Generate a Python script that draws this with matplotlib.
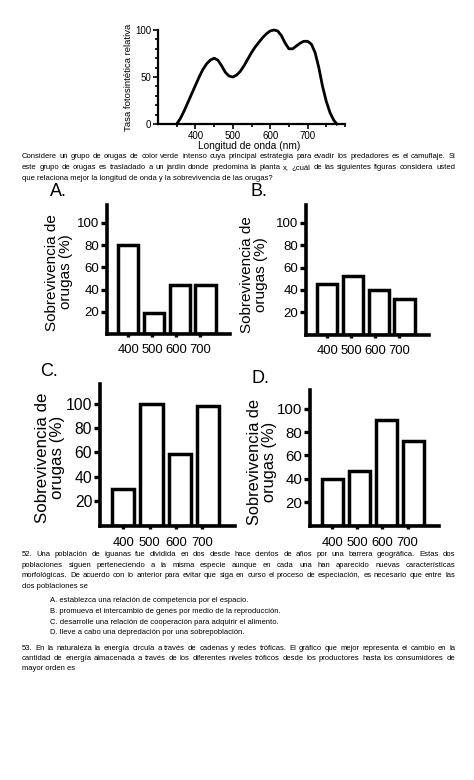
import matplotlib
matplotlib.use("Agg")
import matplotlib.pyplot as plt
import numpy as np

plt.rcParams['font.family'] = ['Liberation Sans', 'DejaVu Sans']

W, H = 474, 780

# espectro de accion (tasa fotosintetica relativa)
wavelength = [350, 360, 370, 380, 390, 400, 410, 420, 430, 440, 450, 460, 470,
              480, 490, 500, 510, 520, 530, 540, 550, 560, 570, 580, 590, 600,
              610, 620, 630, 640, 650, 660, 670, 680, 690, 700, 710, 720, 730,
              740, 750, 760, 770, 778]
rate = [0, 6, 14, 23, 32, 41, 50, 58, 64, 68, 70, 68, 62,
        55, 51, 50, 52, 56, 62, 69, 76, 82, 87, 92, 96, 99,
        100, 99, 94, 86, 80, 80, 83, 86, 88, 88, 85, 76, 60,
        40, 24, 12, 4, 0]
wl_ticks = [400, 500, 600, 700]

# sobrevivencia de orugas (%) por longitud de onda
bar_labels = ['400', '500', '600', '700']
surv_a = [80, 19, 44, 44]
surv_b = [45, 52, 40, 32]
surv_c = [30, 100, 59, 98]
surv_d = [40, 47, 90, 72]

intro = [
    ("Considere un grupo de orugas de color verde intenso cuya principal estrategia para evadir los predadores es el camuflaje. Si", True),
    ("este grupo de orugas es trasladado a un jardín donde predomina la planta x, ¿cuál de las siguientes figuras considera usted", True),
    ("que relaciona mejor la longitud de onda y la sobrevivencia de las orugas?", False),
]
q52 = [
    ("52. Una población de iguanas fue dividida en dos desde hace cientos de años por una barrera geográfica. Estas dos", True),
    ("poblaciones siguen perteneciendo a la misma especie aunque en cada una han aparecido nuevas características", True),
    ("morfológicas. De acuerdo con lo anterior para evitar que siga en curso el proceso de especiación, es necesario que entre las", True),
    ("dos poblaciones se", False),
]
options = [
    "A. establezca una relación de competencia por el espacio.",
    "B. promueva el intercambio de genes por medio de la reproducción.",
    "C. desarrolle una relación de cooperación para adquirir el alimento.",
    "D. lleve a cabo una depredación por una sobrepoblación.",
]
q53 = [
    ("53. En la naturaleza la energía circula a través de cadenas y redes tróficas. El gráfico que mejor representa el cambio en la", True),
    ("cantidad de energía almacenada a través de los diferentes niveles tróficos desde los productores hasta los consumidores de", True),
    ("mayor orden es", False),
]

fig = plt.figure(figsize=(W / 100, H / 100), dpi=100)
renderer = fig.canvas.get_renderer()

TEXT_X0, TEXT_X1 = 22, 455


def axes_px(left, top, right, bottom):
    return fig.add_axes([left / W, 1 - bottom / H, (right - left) / W, (bottom - top) / H])


def fit_size(lines, ref=10):
    # tamaño de letra para que la linea mas larga quepa en el ancho de la pagina
    widest = 0
    for t, _ in lines:
        tmp = fig.text(0, 0, t, fontsize=ref)
        widest = max(widest, tmp.get_window_extent(renderer).width)
        tmp.remove()
    return ref * (TEXT_X1 - TEXT_X0) / widest * 0.985


def put_line(text, y, x0, justify=False, x1=TEXT_X1, size=5.5):
    if not justify:
        fig.text(x0 / W, 1 - y / H, text, fontsize=size, va='center', ha='left')
        return
    words = text.split()
    objs = [fig.text(0, 1 - y / H, w, fontsize=size, va='center', ha='left') for w in words]
    widths = [o.get_window_extent(renderer).width for o in objs]
    gap = (x1 - x0 - sum(widths)) / (len(words) - 1)
    x = x0
    for o, w in zip(objs, widths):
        o.set_x(x / W)
        x += w + gap


# --- grafico superior ---
ax0 = axes_px(158, 30, 345, 124)
ax0.plot(wavelength, rate, color='black', lw=2.0, clip_on=False)
ax0.set_xlim(300, 800)
ax0.set_ylim(0, 100)
ax0.set_xticks(wl_ticks)
ax0.set_xticks([350, 450, 550, 650, 750, 800], minor=True)
ax0.set_yticks([0, 50, 100])
ax0.set_yticks(np.arange(10, 100, 10), minor=True)
for s in ['top', 'right']:
    ax0.spines[s].set_visible(False)
for s in ['left', 'bottom']:
    ax0.spines[s].set_linewidth(1.6)
ax0.tick_params(which='both', direction='out', width=1.2, labelsize=7, pad=1.2)
ax0.tick_params(which='major', length=3.5)
ax0.tick_params(which='minor', length=2.5)
ax0.text(-0.158, 0.5, 'Tasa fotosintética relativa', transform=ax0.transAxes,
         rotation=90, ha='center', va='center', fontsize=6.8)
ax0.text(0.487, -0.234, 'Longitud de onda (nm)', transform=ax0.transAxes,
         ha='center', va='center', fontsize=7.3)


# --- graficos de barras ---
def bar_panel(box, vals, letter, letter_xy, ytick_size, lab_x, lab_y, lab_size, xpad):
    ax = axes_px(*box)
    x = np.arange(len(vals))
    ax.bar(x, vals, width=0.78, color='white', edgecolor='black', linewidth=2.5)
    ax.set_xlim(-0.82, 3.95)
    ax.set_ylim(0, 116)
    ax.set_yticks([20, 40, 60, 80, 100])
    ax.set_xticks(x * 0.93, bar_labels)
    for s in ['top', 'right']:
        ax.spines[s].set_visible(False)
    for s in ['left', 'bottom']:
        ax.spines[s].set_linewidth(2.6)
    ax.tick_params(axis='y', length=4, width=2.4, labelsize=ytick_size, pad=1.5)
    ax.tick_params(axis='x', length=2.5, width=2.4, labelsize=9.4, pad=xpad)
    ax.text(lab_x, lab_y, 'Sobrevivencia de\norugas (%)', transform=ax.transAxes,
            rotation=90, ha='center', va='center', fontsize=lab_size, linespacing=1.0)
    fig.text(letter_xy[0] / W, 1 - letter_xy[1] / H, letter, fontsize=13,
             ha='left', va='center')
    return ax


bar_panel((107, 205, 230, 334), surv_a, 'A.', (50, 192), 9.5, -0.394, 0.48, 11, 5)
bar_panel((306, 205, 429, 334.5), surv_b, 'B.', (250, 192), 9.5, -0.42, 0.46, 11, 5)
bar_panel((100, 384, 235, 525.5), surv_c, 'C.', (40, 371), 11.3, -0.367, 0.48, 12.2, 6)
bar_panel((310, 390, 439, 525.6), surv_d, 'D.', (252, 378), 10.8, -0.372, 0.47, 11.8, 6)

# --- textos ---
size = min(fit_size(intro), fit_size(q52), fit_size(q53))
for i, (t, j) in enumerate(intro):
    put_line(t, 157 + i * 10.5, TEXT_X0, j, size=size)
for i, (t, j) in enumerate(q52):
    put_line(t, 555 + i * 10.4, TEXT_X0, j, size=size)
for i, t in enumerate(options):
    put_line(t, 601 + i * 10.6, 50, size=size)
for i, (t, j) in enumerate(q53):
    put_line(t, 648 + i * 10.5, TEXT_X0, j, size=size)

fig.savefig('out.png', dpi=100, facecolor='white')
